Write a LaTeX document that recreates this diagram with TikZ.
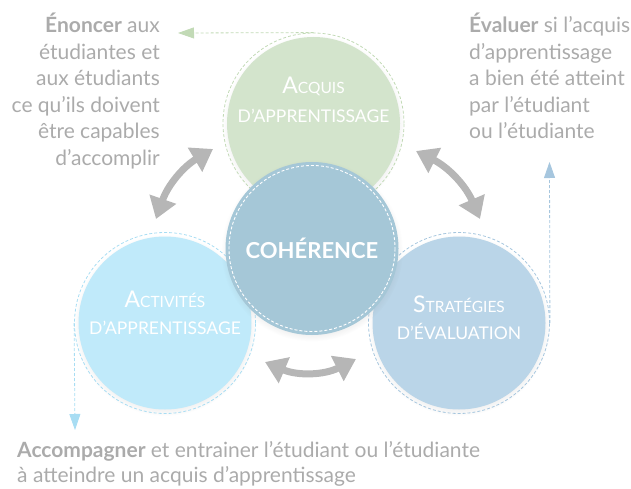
\documentclass[tikz,border=0pt]{standalone}
\usepackage{fontspec}
\setmainfont{Lato}
\usetikzlibrary{arrows.meta,shadows}
\definecolor{vert}{HTML}{D3E4CC}
\definecolor{ptvert}{HTML}{C2DAB6}
\definecolor{ciel}{HTML}{C0EAFA}
\definecolor{ptciel}{HTML}{A8DDF3}
\definecolor{bleu}{HTML}{BAD5E8}
\definecolor{ptbleu}{HTML}{A6C6DE}
\definecolor{coh}{HTML}{A5C7D7}
\definecolor{gris}{HTML}{B6B6B6}
\definecolor{texte}{HTML}{ABABAB}
\newcommand{\pcap}[2]{{\fontsize{23}{27}\selectfont #1}{\fontsize{15.5}{27}\selectfont #2}}
\begin{document}
\begin{tikzpicture}[x=1pt,y=-1pt,
	anneau/.style={circle,draw=#1,dash pattern=on 3pt off 2pt,line width=.8pt,minimum size=181pt,inner sep=0pt},
	ombre/.style={circular drop shadow={shadow xshift=0pt,shadow yshift=-2pt,shadow scale=1.05,opacity=.2}},
	titre/.style={white,align=center,inner sep=0pt,font=\fontsize{17.5}{27}\selectfont},
	bloc/.style={texte,inner sep=0pt,font=\fontsize{21}{26.5}\selectfont},
	fleche/.style={gris,line width=7pt,{Triangle[length=21pt,width=27pt]}-{Triangle[length=21pt,width=27pt]}},
	pointille/.style={draw=#1,line width=.8pt,dash pattern=on 3pt off 2pt,-{Triangle[length=16pt,width=11pt,fill=#1]}}]
	\useasboundingbox (0,0) rectangle (631,489);
	\foreach \n/\x/\y/\c in {acq/313.5/123.5/vert, act/165/323/ciel, str/459/323/bleu}{
		\fill[\c,ombre] (\x,\y) circle (86.5);
		\node[anneau=pt\c] (\n) at (\x,\y) {};
	}
	\node[titre,yshift=24] (acq-t) at (acq) {\pcap{A}{CQUIS}\\[2pt]D’APPRENTISSAGE};
	\node[titre,yshift=10] (act-t) at (act) {\pcap{A}{CTIVITÉS}\\D’APPRENTISSAGE};
	\node[titre,yshift=5] (str-t) at (str) {\pcap{S}{TRATÉGIES}\\D’ÉVALUATION};
	\node[circle,fill=coh,ombre,minimum size=173pt,inner sep=0pt,text=white,font=\bfseries\fontsize{22}{22}\selectfont] (coh) at (312,248.5) {COHÉRENCE};
	\draw[white,line width=.9pt,dash pattern=on 3pt off 2pt] (coh.center) circle (83);
	\path (156,219) coordinate (g1) (213,149) coordinate (g2)
		(416,151) coordinate (d1) (480,219) coordinate (d2)
		(265,362) coordinate (b1) (356,359) coordinate (b2)
		(178,33) coordinate (v-pt) (75,430) coordinate (c-pt) (549.5,162) coordinate (b-pt);
	\draw[fleche] (g1) to[bend left=20] (g2);
	\draw[fleche] (d1) to[bend left=20] (d2);
	\draw[fleche] (b1) to[bend right=25] (b2);
	\draw[pointille=ptvert] (acq.north) -- (v-pt);
	\draw[pointille=ptciel] (act.west) -- (c-pt);
	\draw[pointille=ptbleu] (str.east) -- (b-pt);
	\node[bloc,align=right,anchor=base east] (enon) at (160,165.5) {\textbf{Énoncer} aux\\étudiantes et\\aux étudiants\\ce qu’ils doivent\\être capables\\d’accomplir};
	\node[bloc,align=left,anchor=base west] (eval) at (469,139) {\textbf{Évaluer} si l’acquis\\d’apprentissage\\a bien été atteint\\par l’étudiant\\ou l’étudiante};
	\node[bloc,align=left,anchor=base west] (acco) at (17,482) {\textbf{Accompagner} et entrainer l’étudiant ou l’étudiante\\[-1.5pt]à atteindre un acquis d’apprentissage};
\end{tikzpicture}
\end{document}
